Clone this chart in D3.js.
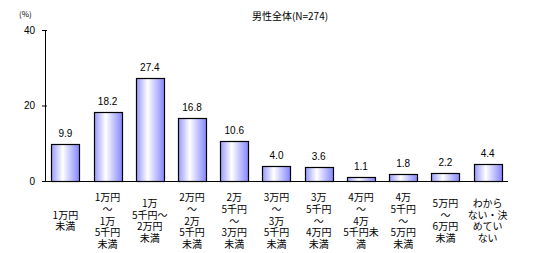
<!DOCTYPE html>
<html>
<head>
<meta charset="utf-8">
<script src="https://cdn.jsdelivr.net/npm/d3@7"></script>
<style>
body{margin:0;background:#fff;}
svg text{font-family:"Noto Sans CJK JP","Liberation Sans",sans-serif;fill:#000;}
</style>
</head>
<body>
<div id="chart"></div>
<script>
var categories=[
  ["1万円","未満"],
  ["1万円","～","1万","5千円","未満"],
  ["1万","5千円～","2万円","未満"],
  ["2万円","～","2万","5千円","未満"],
  ["2万","5千円","～","3万円","未満"],
  ["3万円","～","3万","5千円","未満"],
  ["3万","5千円","～","4万円","未満"],
  ["4万円","～","4万","5千円未","満"],
  ["4万","5千円","～","5万円","未満"],
  ["5万円","～","6万円","未満"],
  ["わから","ない・決","めてい","ない"]
];
var values=[9.9,18.2,27.4,16.8,10.6,4.0,3.6,1.1,1.8,2.2,4.4];
var yTicks=[0,20,40];
var title="男性全体(N=274)";

var width=533,height=253;
var padLeft=45,padRight=508,padTop=30,padBottom=181;

var svg=d3.select("#chart").append("svg")
  .attr("width",width)
  .attr("height",height);

var defs=svg.append("defs");
var grad=defs.append("linearGradient").attr("id","barGrad")
  .attr("x1","0%").attr("x2","100%").attr("y1","0%").attr("y2","0%");
grad.append("stop").attr("offset","0%").attr("stop-color","#9a9aff");
grad.append("stop").attr("offset","40%").attr("stop-color","#ffffff");
grad.append("stop").attr("offset","100%").attr("stop-color","#8484ff");

var xScale=d3.scaleBand()
  .domain(d3.range(values.length))
  .range([padLeft,padRight])
  .paddingInner(0.335)
  .paddingOuter(0.15);

var yScale=d3.scaleLinear()
  .domain([0,40])
  .range([padBottom,padTop]);

// y axis
var yAxis=d3.axisLeft(yScale).tickValues(yTicks).tickSize(3).tickPadding(7);
var gy=svg.append("g")
  .attr("transform","translate("+padLeft+",0)")
  .call(yAxis);
gy.select(".domain").attr("d","M0.5,"+padTop+"V"+padBottom).attr("stroke","#000");
gy.selectAll(".tick line").attr("x1",2).attr("x2",-3).attr("stroke","#000");
gy.selectAll(".tick text").attr("font-size",10).style("font-family","Liberation Sans, sans-serif");

// bars
svg.selectAll("rect.bar")
  .data(values)
  .enter()
  .append("rect")
  .attr("class","bar")
  .attr("x",function(d,i){return Math.round(xScale(i))+0.5;})
  .attr("y",function(d){return Math.round(yScale(d))+0.5;})
  .attr("width",Math.round(xScale.bandwidth()))
  .attr("height",function(d){return Math.round(yScale(0))-Math.round(yScale(d));})
  .attr("fill","url(#barGrad)")
  .attr("stroke","#000")
  .attr("stroke-width",1.2);

// x axis line
svg.append("line")
  .attr("x1",padLeft).attr("x2",padRight)
  .attr("y1",padBottom+0.5).attr("y2",padBottom+0.5)
  .attr("stroke","#000").attr("stroke-width",1.2);

// value labels
svg.selectAll("text.val")
  .data(values)
  .enter()
  .append("text")
  .attr("class","val")
  .attr("text-anchor","middle")
  .attr("font-size",10)
  .style("font-family","Liberation Sans, sans-serif")
  .attr("x",function(d,i){return xScale(i)+xScale.bandwidth()/2;})
  .attr("y",function(d){return yScale(d)-7;})
  .text(function(d){return d.toFixed(1);});

// category labels, one text per line
var lineH=11.8,midY=221;
categories.forEach(function(lines,i){
  var cx=xScale(i)+xScale.bandwidth()/2;
  var y0=midY-(lines.length-1)*lineH/2+3.5;
  svg.selectAll(null)
    .data(lines)
    .enter()
    .append("text")
    .attr("class","cat")
    .attr("text-anchor","middle")
    .attr("font-size",10)
    .attr("x",cx)
    .attr("y",function(d,j){return y0+j*lineH;})
    .text(function(d){return d;});
});

svg.append("text")
  .attr("x",290).attr("y",20)
  .attr("text-anchor","middle")
  .attr("font-size",10)
  .text(title);

svg.append("text")
  .attr("x",19).attr("y",17)
  .attr("font-size",8)
  .text("(%)");
</script>
</body>
</html>
